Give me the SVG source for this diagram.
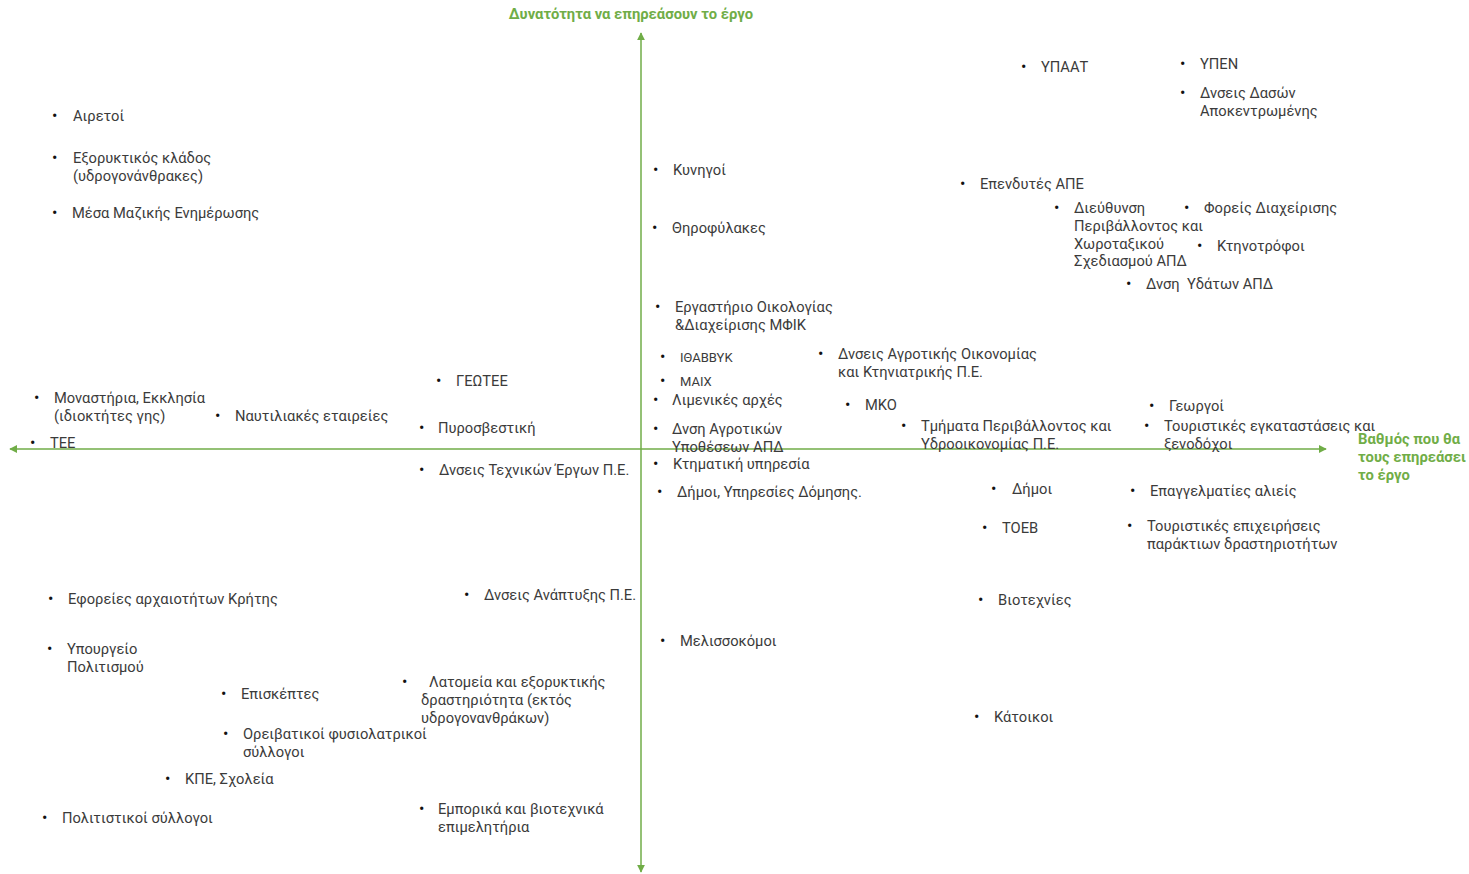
<svg xmlns="http://www.w3.org/2000/svg" width="1469" height="874" viewBox="0 0 1469 874">
<style>
.t{font-family:Roboto,"Liberation Sans",sans-serif;font-size:14.7px;fill:#3b3b3b}
.s{font-size:13px}
.b{font-family:Roboto,"Liberation Sans",sans-serif;font-size:16px;fill:#111}
.ax{font-family:Roboto,"Liberation Sans",sans-serif;font-size:14.8px;font-weight:bold;fill:#70AD47}
.axis{stroke:#70AD47;stroke-width:1.5;fill:none}
</style>
<defs>
<marker id="ah" viewBox="0 0 10 10" refX="9" refY="5" markerWidth="8" markerHeight="8" orient="auto-start-reverse" markerUnits="userSpaceOnUse">
<path d="M0,0 L10,5 L0,10 z" fill="#70AD47"/>
</marker>
</defs>
<rect width="1469" height="874" fill="#fff"/>
<g id="connectors">
<line class="axis" x1="641" y1="872" x2="641" y2="33" marker-end="url(#ah)" marker-start="url(#ah)"/>
<line class="axis" x1="10" y1="449" x2="1326" y2="449" marker-end="url(#ah)" marker-start="url(#ah)"/>
</g>
<g id="axis-labels">
<text class="ax" x="631" y="19" text-anchor="middle">Δυνατότητα να επηρεάσουν το έργο</text>
<text class="ax" x="1358" y="444">Βαθμός που θα<tspan x="1358" dy="18">τους επηρεάσει</tspan><tspan x="1358" dy="18">το έργο</tspan></text>
</g>
<g id="n-airetoi"><text class="b" x="52" y="121">•</text><text class="t" x="73" y="121">Αιρετοί</text></g>
<g id="n-exoryktikos"><text class="b" x="52" y="163">•</text><text class="t" x="73" y="163">Εξορυκτικός κλάδος<tspan x="73" dy="18">(υδρογονάνθρακες)</tspan></text></g>
<g id="n-mme"><text class="b" x="52" y="218">•</text><text class="t" x="72" y="218">Μέσα Μαζικής Ενημέρωσης</text></g>
<g id="n-monastiria"><text class="b" x="34" y="403">•</text><text class="t" x="54" y="403">Μοναστήρια, Εκκλησία<tspan x="54" dy="18">(ιδιοκτήτες γης)</tspan></text></g>
<g id="n-naftiliakes"><text class="b" x="215" y="421">•</text><text class="t" x="235" y="421">Ναυτιλιακές εταιρείες</text></g>
<g id="n-tee"><text class="b" x="30" y="448">•</text><text class="t" x="50" y="448">ΤΕΕ</text></g>
<g id="n-geotee"><text class="b" x="436" y="386">•</text><text class="t" x="456" y="386">ΓΕΩΤΕΕ</text></g>
<g id="n-pyrosvestiki"><text class="b" x="419" y="433">•</text><text class="t" x="438" y="433">Πυροσβεστική</text></g>
<g id="n-technika"><text class="b" x="419" y="475">•</text><text class="t" x="439" y="475">Δνσεις Τεχνικών Έργων Π.Ε.</text></g>
<g id="n-eforeies"><text class="b" x="48" y="604">•</text><text class="t" x="68" y="604">Εφορείες αρχαιοτήτων Κρήτης</text></g>
<g id="n-anaptyxis"><text class="b" x="464" y="600">•</text><text class="t" x="484" y="600">Δνσεις Ανάπτυξης Π.Ε.</text></g>
<g id="n-ypourgeio"><text class="b" x="47" y="654">•</text><text class="t" x="67" y="654">Υπουργείο<tspan x="67" dy="18">Πολιτισμού</tspan></text></g>
<g id="n-episkeptes"><text class="b" x="221" y="699">•</text><text class="t" x="241" y="699">Επισκέπτες</text></g>
<g id="n-latomeia"><text class="b" x="402" y="687">•</text><text class="t" x="429" y="687">Λατομεία και εξορυκτικής<tspan x="421" dy="18">δραστηριότητα (εκτός</tspan><tspan x="421" dy="18">υδρογονανθράκων)</tspan></text></g>
<g id="n-oreivatikoi"><text class="b" x="223" y="739">•</text><text class="t" x="243" y="739">Ορειβατικοί φυσιολατρικοί<tspan x="243" dy="18">σύλλογοι</tspan></text></g>
<g id="n-kpe"><text class="b" x="165" y="784">•</text><text class="t" x="185" y="784">ΚΠΕ, Σχολεία</text></g>
<g id="n-politistikoi"><text class="b" x="42" y="823">•</text><text class="t" x="62" y="823">Πολιτιστικοί σύλλογοι</text></g>
<g id="n-emporika"><text class="b" x="419" y="814">•</text><text class="t" x="438" y="814">Εμπορικά και βιοτεχνικά<tspan x="438" dy="18">επιμελητήρια</tspan></text></g>
<g id="n-kynigoi"><text class="b" x="653" y="175">•</text><text class="t" x="673" y="175">Κυνηγοί</text></g>
<g id="n-thirofylakes"><text class="b" x="652" y="233">•</text><text class="t" x="672" y="233">Θηροφύλακες</text></g>
<g id="n-ergastirio"><text class="b" x="655" y="312">•</text><text class="t" x="675" y="312">Εργαστήριο Οικολογίας<tspan x="675" dy="18">&amp;Διαχείρισης ΜΦΙΚ</tspan></text></g>
<g id="n-ithavvyk"><text class="b" x="660" y="362">•</text><text class="t s" x="680" y="362">ΙΘΑΒΒΥΚ</text></g>
<g id="n-maich"><text class="b" x="660" y="386">•</text><text class="t s" x="680" y="386">ΜΑΙΧ</text></g>
<g id="n-limenikes"><text class="b" x="653" y="405">•</text><text class="t" x="672" y="405">Λιμενικές αρχές</text></g>
<g id="n-agrotikon"><text class="b" x="653" y="434">•</text><text class="t" x="672" y="434">Δνση Αγροτικών<tspan x="672" dy="18">Υποθέσεων ΑΠΔ</tspan></text></g>
<g id="n-ktimatiki"><text class="b" x="653" y="469">•</text><text class="t" x="673" y="469">Κτηματική υπηρεσία</text></g>
<g id="n-dimoi-domisis"><text class="b" x="657" y="497">•</text><text class="t" x="677" y="497">Δήμοι, Υπηρεσίες Δόμησης.</text></g>
<g id="n-melissokomoi"><text class="b" x="660" y="646">•</text><text class="t" x="680" y="646">Μελισσοκόμοι</text></g>
<g id="n-agrotikis"><text class="b" x="818" y="359">•</text><text class="t" x="838" y="359">Δνσεις Αγροτικής Οικονομίας<tspan x="838" dy="18">και Κτηνιατρικής Π.Ε.</tspan></text></g>
<g id="n-mko"><text class="b" x="845" y="410">•</text><text class="t" x="865" y="410">ΜΚΟ</text></g>
<g id="n-tmimata"><text class="b" x="901" y="431">•</text><text class="t" x="921" y="431">Τμήματα Περιβάλλοντος και<tspan x="921" dy="18">Υδροοικονομίας Π.Ε.</tspan></text></g>
<g id="n-ypaat"><text class="b" x="1021" y="72">•</text><text class="t" x="1041" y="72">ΥΠΑΑΤ</text></g>
<g id="n-ypen"><text class="b" x="1180" y="69">•</text><text class="t" x="1200" y="69">ΥΠΕΝ</text></g>
<g id="n-dason"><text class="b" x="1180" y="98">•</text><text class="t" x="1200" y="98">Δνσεις Δασών<tspan x="1200" dy="18">Αποκεντρωμένης</tspan></text></g>
<g id="n-ape"><text class="b" x="960" y="189">•</text><text class="t" x="980" y="189">Επενδυτές ΑΠΕ</text></g>
<g id="n-diefthynsi"><text class="b" x="1054" y="213">•</text><text class="t" x="1074" y="213">Διεύθυνση<tspan x="1074" dy="18">Περιβάλλοντος και</tspan><tspan x="1074" dy="18">Χωροταξικού</tspan><tspan x="1074" dy="17">Σχεδιασμού ΑΠΔ</tspan></text></g>
<g id="n-foreis"><text class="b" x="1184" y="213">•</text><text class="t" x="1204" y="213">Φορείς Διαχείρισης</text></g>
<g id="n-ktinotrofoi"><text class="b" x="1197" y="251">•</text><text class="t" x="1217" y="251">Κτηνοτρόφοι</text></g>
<g id="n-ydaton"><text class="b" x="1126" y="289">•</text><text class="t" x="1146" y="289" xml:space="preserve">Δνση  Υδάτων ΑΠΔ</text></g>
<g id="n-georgoi"><text class="b" x="1149" y="411">•</text><text class="t" x="1169" y="411">Γεωργοί</text></g>
<g id="n-touristikes-egk"><text class="b" x="1144" y="431">•</text><text class="t" x="1164" y="431">Τουριστικές εγκαταστάσεις και<tspan x="1164" dy="18">ξενοδόχοι</tspan></text></g>
<g id="n-dimoi"><text class="b" x="991" y="494">•</text><text class="t" x="1012" y="494">Δήμοι</text></g>
<g id="n-alieis"><text class="b" x="1130" y="496">•</text><text class="t" x="1150" y="496">Επαγγελματίες αλιείς</text></g>
<g id="n-toeb"><text class="b" x="982" y="533">•</text><text class="t" x="1002" y="533">ΤΟΕΒ</text></g>
<g id="n-touristikes-epix"><text class="b" x="1127" y="531">•</text><text class="t" x="1147" y="531">Τουριστικές επιχειρήσεις<tspan x="1147" dy="18">παράκτιων δραστηριοτήτων</tspan></text></g>
<g id="n-viotexnies"><text class="b" x="978" y="605">•</text><text class="t" x="998" y="605">Βιοτεχνίες</text></g>
<g id="n-katoikoi"><text class="b" x="974" y="722">•</text><text class="t" x="994" y="722">Κάτοικοι</text></g>
</svg>
